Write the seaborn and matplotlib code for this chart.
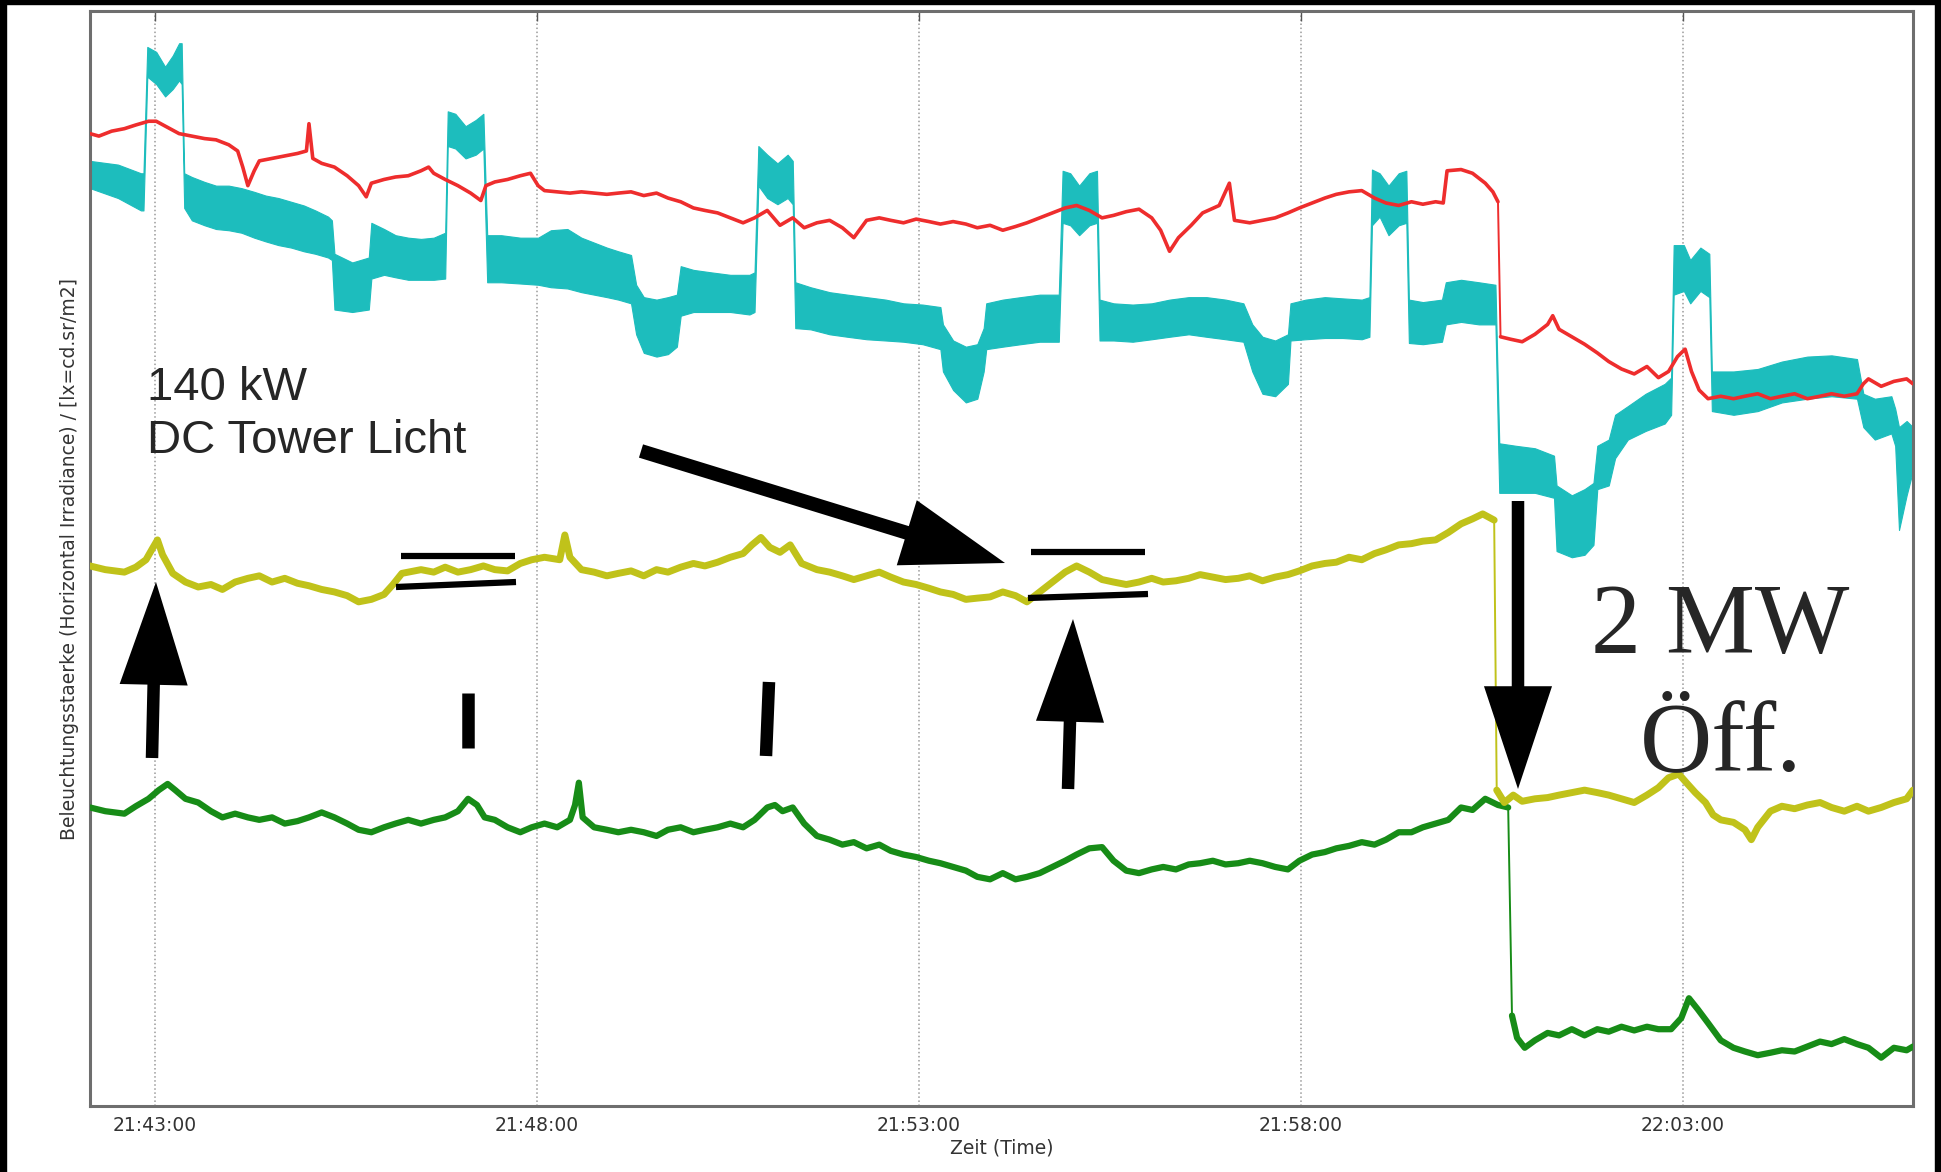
import pandas as pd
import seaborn as sns
import matplotlib.pyplot as plt
import matplotlib.dates as mdates
from matplotlib.patches import Rectangle
from matplotlib.lines import Line2D

# sample times: seconds after 21:42:00, values: illuminance (plot units, no y scale shown)
red_t = [9, 16, 26, 36, 45, 55, 61, 70, 79, 89,
         99, 108, 118, 125, 129, 133, 138, 142, 152, 162,
         172, 179, 181, 184, 191, 201, 211, 220, 226, 230,
         240, 249, 259, 269, 275, 279, 288, 298, 308, 316,
         320, 327, 337, 347, 355, 361, 366, 376, 386, 395,
         405, 415, 424, 434, 444, 454, 463, 473, 483, 492,
         502, 512, 522, 531, 541, 551, 561, 570, 580, 590,
         600, 609, 619, 629, 638, 648, 658, 668, 677, 687,
         697, 706, 716, 726, 736, 745, 755, 765, 775, 784,
         794, 804, 813, 823, 833, 843, 850, 857, 864, 874,
         883, 896, 904, 908, 920, 930, 940, 950, 959, 969,
         979, 988, 998, 1008, 1018, 1027, 1037, 1047, 1056, 1066,
         1072, 1075, 1086, 1095, 1105, 1111, 1115, 1117, 1125, 1134,
         1144, 1154, 1158, 1163, 1173, 1183, 1193, 1202, 1212, 1222,
         1232, 1241, 1249, 1256, 1262, 1267, 1273, 1280, 1290, 1300,
         1309, 1319, 1329, 1338, 1348, 1358, 1368, 1377, 1387, 1397,
         1402, 1406, 1416, 1426, 1436, 1441]
red_v = [785, 783, 787, 789, 792, 795, 795, 790, 785, 783,
         781, 780, 776, 771, 758, 743, 755, 763, 765, 767,
         769, 771, 793, 765, 761, 758, 751, 743, 734, 745,
         748, 750, 751, 755, 758, 753, 748, 743, 737, 731,
         743, 746, 748, 751, 753, 743, 739, 738, 737, 738,
         737, 736, 737, 738, 735, 737, 733, 730, 725, 723,
         721, 717, 713, 717, 723, 711, 717, 709, 713, 715,
         709, 701, 715, 717, 715, 713, 716, 714, 712, 714,
         712, 709, 711, 707, 710, 713, 717, 721, 725, 727,
         723, 717, 719, 722, 724, 717, 707, 690, 701, 711,
         721, 727, 745, 715, 713, 715, 717, 721, 725, 729,
         733, 736, 738, 739, 733, 729, 727, 730, 728, 730,
         729, 755, 756, 753, 745, 738, 730, 621, 619, 617,
         623, 631, 638, 627, 621, 615, 608, 601, 595, 591,
         597, 588, 593, 605, 611, 593, 578, 571, 573, 571,
         573, 575, 571, 573, 575, 571, 573, 575, 573, 575,
         583, 587, 581, 585, 587, 583]

cyan_t = [9, 31, 49, 51, 54, 61, 68, 74, 79, 81,
          83, 89, 99, 108, 118, 128, 138, 147, 157, 167,
          177, 186, 196, 199, 201, 215, 228, 230, 240, 249,
          259, 269, 279, 288, 290, 296, 304, 312, 318, 321,
          332, 347, 361, 371, 384, 395, 405, 415, 424, 434,
          438, 444, 454, 463, 470, 473, 483, 497, 512, 527,
          531, 534, 541, 549, 557, 561, 563, 575, 590, 604,
          619, 634, 648, 663, 677, 679, 687, 697, 706, 711,
          713, 726, 740, 755, 770, 773, 779, 786, 794, 800,
          802, 813, 828, 843, 857, 872, 886, 901, 915, 922,
          930, 940, 950, 952, 964, 979, 993, 1008, 1014, 1016,
          1022, 1029, 1037, 1043, 1045, 1056, 1071, 1074, 1086, 1100,
          1113, 1116, 1129, 1144, 1159, 1161, 1173, 1183, 1190, 1193,
          1202, 1207, 1217, 1231, 1246, 1251, 1253, 1261, 1266, 1274,
          1281, 1283, 1300, 1319, 1338, 1358, 1377, 1397, 1402, 1411,
          1424, 1427, 1430, 1436, 1441]
cyan_hi = [763, 760, 753, 753, 855, 851, 839, 848, 858, 858,
           753, 750, 746, 743, 743, 741, 738, 735, 733, 730,
           727, 723, 718, 715, 688, 681, 685, 713, 708, 703,
           701, 700, 701, 705, 803, 801, 791, 796, 801, 703,
           703, 701, 701, 707, 708, 701, 697, 693, 690, 687,
           663, 653, 651, 653, 655, 678, 675, 673, 671, 671,
           673, 775, 768, 761, 768, 763, 665, 661, 657, 655,
           653, 651, 648, 647, 645, 631, 618, 613, 615, 628,
           648, 651, 653, 655, 655, 755, 753, 743, 753, 755,
           651, 648, 647, 648, 651, 653, 653, 651, 648, 631,
           621, 618, 623, 648, 651, 653, 652, 651, 653, 756,
           753, 743, 753, 755, 651, 649, 651, 665, 667, 665,
           663, 535, 533, 531, 525, 501, 493, 498, 503, 533,
           538, 558, 565, 575, 583, 588, 695, 695, 683, 693,
           688, 593, 593, 595, 601, 605, 606, 603, 575, 571,
           573, 563, 548, 553, 548]
cyan_lo = [741, 733, 723, 723, 831, 825, 815, 821, 828, 825,
           725, 715, 711, 708, 707, 705, 701, 698, 695, 693,
           690, 688, 685, 683, 643, 641, 643, 668, 671, 669,
           667, 667, 667, 668, 775, 773, 765, 768, 773, 665,
           665, 664, 663, 661, 660, 657, 655, 653, 651, 648,
           623, 608, 605, 607, 613, 638, 641, 641, 641, 639,
           641, 743, 733, 728, 733, 728, 628, 627, 623, 621,
           619, 618, 617, 615, 611, 593, 578, 568, 571, 593,
           611, 613, 615, 617, 617, 713, 711, 703, 711, 713,
           618, 618, 617, 619, 621, 623, 621, 619, 617, 593,
           575, 573, 583, 618, 619, 620, 620, 619, 621, 711,
           718, 703, 711, 713, 616, 615, 617, 631, 633, 631,
           631, 495, 495, 495, 491, 448, 443, 445, 453, 498,
           501, 523, 538, 545, 551, 558, 655, 658, 648, 658,
           653, 561, 558, 561, 568, 571, 573, 571, 548, 538,
           543, 533, 465, 493, 513]

yel_t = [9, 21, 36, 45, 53, 58, 62, 66, 74, 84,
         94, 104, 113, 123, 133, 142, 152, 162, 172, 181,
         191, 201, 211, 220, 230, 240, 247, 254, 269, 279,
         288, 298, 308, 318, 327, 337, 347, 356, 366, 378,
         382, 386, 395, 405, 415, 424, 434, 444, 454, 463,
         473, 483, 492, 502, 512, 522, 529, 536, 543, 551,
         559, 568, 580, 590, 600, 609, 619, 629, 638, 648,
         658, 668, 677, 687, 697, 706, 716, 726, 736, 745,
         755, 765, 775, 784, 794, 804, 813, 823, 833, 843,
         852, 862, 872, 881, 891, 901, 911, 920, 930, 940,
         950, 959, 969, 979, 988, 998, 1008, 1018, 1027, 1037,
         1047, 1056, 1066, 1076, 1086, 1095, 1103, 1112, 1114, 1120,
         1127, 1134, 1144, 1154, 1163, 1173, 1183, 1193, 1202, 1212,
         1222, 1232, 1241, 1249, 1257, 1263, 1270, 1278, 1284, 1290,
         1300, 1309, 1314, 1319, 1329, 1338, 1348, 1358, 1368, 1377,
         1387, 1397, 1406, 1416, 1426, 1436, 1441]
yel_v = [436, 433, 431, 435, 441, 450, 457, 445, 430, 423,
         419, 421, 417, 423, 426, 428, 423, 426, 422, 420,
         417, 415, 412, 407, 409, 413, 421, 430, 433, 431,
         435, 431, 433, 436, 433, 432, 438, 441, 443, 441,
         461, 443, 433, 431, 428, 430, 432, 428, 433, 431,
         435, 438, 436, 439, 443, 446, 453, 459, 451, 447,
         453, 438, 433, 431, 428, 425, 428, 431, 427, 423,
         421, 418, 415, 413, 409, 410, 411, 415, 412, 407,
         415, 423, 431, 436, 431, 425, 423, 421, 423, 426,
         423, 424, 426, 429, 427, 425, 426, 428, 424, 427,
         429, 432, 436, 438, 439, 443, 441, 446, 449, 453,
         454, 456, 457, 463, 470, 474, 478, 473, 255, 245,
         251, 246, 248, 249, 251, 253, 255, 253, 251, 248,
         245, 251, 257, 265, 268, 261, 253, 245, 235, 231,
         229, 223, 215, 225, 238, 242, 240, 243, 245, 241,
         238, 242, 238, 241, 245, 248, 255]

grn_t = [9, 21, 36, 45, 55, 63, 70, 76, 84, 94,
         104, 113, 123, 133, 142, 152, 162, 172, 181, 191,
         201, 211, 220, 230, 240, 249, 259, 269, 279, 288,
         298, 306, 313, 319, 327, 337, 347, 356, 366, 376,
         386, 390, 393, 396, 405, 415, 424, 434, 444, 454,
         463, 473, 483, 492, 502, 512, 522, 531, 541, 547,
         553, 561, 570, 580, 590, 600, 609, 619, 629, 638,
         648, 658, 668, 677, 687, 697, 706, 716, 726, 736,
         745, 755, 765, 775, 784, 794, 804, 813, 823, 833,
         843, 852, 862, 872, 881, 891, 901, 911, 920, 930,
         940, 950, 959, 969, 979, 988, 998, 1008, 1018, 1027,
         1037, 1047, 1056, 1066, 1076, 1086, 1095, 1105, 1115, 1123,
         1126, 1130, 1136, 1144, 1154, 1163, 1173, 1183, 1193, 1202,
         1212, 1222, 1232, 1241, 1251, 1259, 1265, 1272, 1280, 1290,
         1300, 1309, 1319, 1329, 1338, 1348, 1358, 1368, 1377, 1387,
         1397, 1406, 1416, 1426, 1436, 1441]
grn_v = [241, 238, 236, 242, 248, 255, 260, 255, 248, 245,
         238, 233, 236, 233, 231, 233, 228, 230, 233, 237,
         233, 228, 223, 221, 225, 228, 231, 228, 231, 233,
         238, 248, 243, 233, 231, 225, 221, 225, 228, 225,
         231, 243, 261, 233, 225, 223, 221, 223, 221, 218,
         223, 225, 221, 223, 225, 228, 225, 231, 241, 243,
         238, 241, 228, 218, 215, 211, 213, 208, 211, 206,
         203, 201, 198, 196, 193, 190, 185, 183, 188, 183,
         185, 188, 193, 198, 203, 208, 209, 198, 190, 188,
         191, 193, 191, 195, 196, 198, 195, 196, 198, 196,
         193, 191, 198, 203, 205, 208, 210, 213, 211, 215,
         221, 221, 225, 228, 231, 241, 239, 248, 243, 241,
         73, 55, 47, 53, 59, 57, 62, 57, 62, 60,
         64, 61, 64, 62, 62, 71, 87, 78, 67, 53,
         47, 44, 41, 43, 45, 44, 48, 52, 50, 54,
         50, 47, 39, 47, 45, 48]

t0 = pd.Timestamp('2014-01-01 21:42:00')


def to_time(sec):
    return t0 + pd.to_timedelta(sec, unit='s')


W, H = 1941, 1172


def fig_xy(px, py):
    # pixel position in the picture -> figure fraction
    return (px / W, 1 - py / H)


def noisy_line(ax, t, v, color, lw):
    # thin line for the whole trace, thick band for each level between big jumps
    df = pd.DataFrame({'time': to_time(t), 'value': v})
    sns.lineplot(data=df, x='time', y='value', ax=ax, color=color, lw=1.4,
                 sort=False, estimator=None, zorder=3)
    jump = df['value'].diff().abs() > 100
    for _, part in df.groupby(jump.cumsum()):
        sns.lineplot(data=part, x='time', y='value', ax=ax, color=color, lw=lw,
                     sort=False, estimator=None, zorder=3)


sns.set_style('white')
fig = plt.figure(figsize=(W / 100, H / 100), dpi=100, facecolor='white')
ax = fig.add_axes([90 / W, 1 - 1106 / H, (1913 - 90) / W, (1106 - 11) / H])

ax.fill_between(to_time(cyan_t), cyan_lo, cyan_hi, color='#1dbdbd', lw=0.8, zorder=2)
noisy_line(ax, red_t, red_v, '#ee2d2d', 2.6)
noisy_line(ax, grn_t, grn_v, '#178c17', 4.5)
noisy_line(ax, yel_t, yel_v, '#c0c21a', 5)

ax.set_xlim(to_time(9), to_time(1441))
ax.set_ylim(0, 884)
ax.set_xlabel('')
ax.xaxis.set_major_locator(mdates.MinuteLocator(byminute=range(3, 60, 5)))
ax.xaxis.set_major_formatter(mdates.DateFormatter('%H:%M:%S'))
ax.set_yticks([])
ax.grid(True, axis='x', linestyle=':', color='#9a9a9a', linewidth=1.1)
ax.tick_params(axis='x', direction='in', length=7, width=1, top=True,
               color='#555555', labelcolor='#333333', labelsize=13.5, pad=7)
for s in ax.spines.values():
    s.set_color('#6e6e6e')
    s.set_linewidth(2.2)
ax.set_xlabel('Zeit (Time)', fontsize=13.5, color='#333333', labelpad=3)
ax.set_ylabel('Beleuchtungsstaerke (Horizontal Irradiance) / [lx=cd.sr/m2]',
              fontsize=13.5, color='#333333', labelpad=8)

# hand drawn annotations
fig.text(*fig_xy(147, 400), '140 kW', family='Liberation Sans', fontsize=34, va='baseline')
fig.text(*fig_xy(147, 453), 'DC Tower Licht', family='Liberation Sans', fontsize=34, va='baseline')
fig.text(*fig_xy(1720, 652), '2 MW', family='Liberation Serif', fontsize=72, ha='center', va='baseline')
fig.text(*fig_xy(1721, 770), 'Öff.', family='Liberation Serif', fontsize=72, ha='center', va='baseline')


def arrow(tail, tip, tw=9):
    style = 'simple,head_length=74,head_width=49,tail_width=%d' % tw
    ax.annotate('', xy=fig_xy(*tip), xytext=fig_xy(*tail),
                xycoords='figure fraction', textcoords='figure fraction',
                arrowprops=dict(arrowstyle=style, fc='black', ec='black', lw=0,
                                mutation_scale=1, shrinkA=0, shrinkB=0),
                annotation_clip=False)


arrow((641, 451), (1005, 563), tw=10)
arrow((152, 758), (156, 582))
arrow((1068, 789), (1073, 619))
arrow((1518, 501), (1518, 789))


def bar(p0, p1, lw):
    x0, y0 = fig_xy(*p0)
    x1, y1 = fig_xy(*p1)
    fig.add_artist(Line2D([x0, x1], [y0, y1], transform=fig.transFigure,
                          color='black', lw=lw, solid_capstyle='butt'))


bar((468, 693), (468, 748), 9)
bar((769, 682), (766, 756), 9)
bar((401, 556), (515, 556), 4.5)
bar((396, 587), (516, 582), 4.5)
bar((1031, 552), (1145, 552), 4.5)
bar((1028, 598), (1148, 594), 4.5)

# black border of the photographed screen
for x, y, w, h in [(0, 0, 6, H), (W - 6, 0, 6, H), (0, 0, W, 4)]:
    fig.add_artist(Rectangle(fig_xy(x, y + h), w / W, h / H, transform=fig.transFigure,
                             color='black', zorder=10))

fig.savefig('out.png', dpi=100)
